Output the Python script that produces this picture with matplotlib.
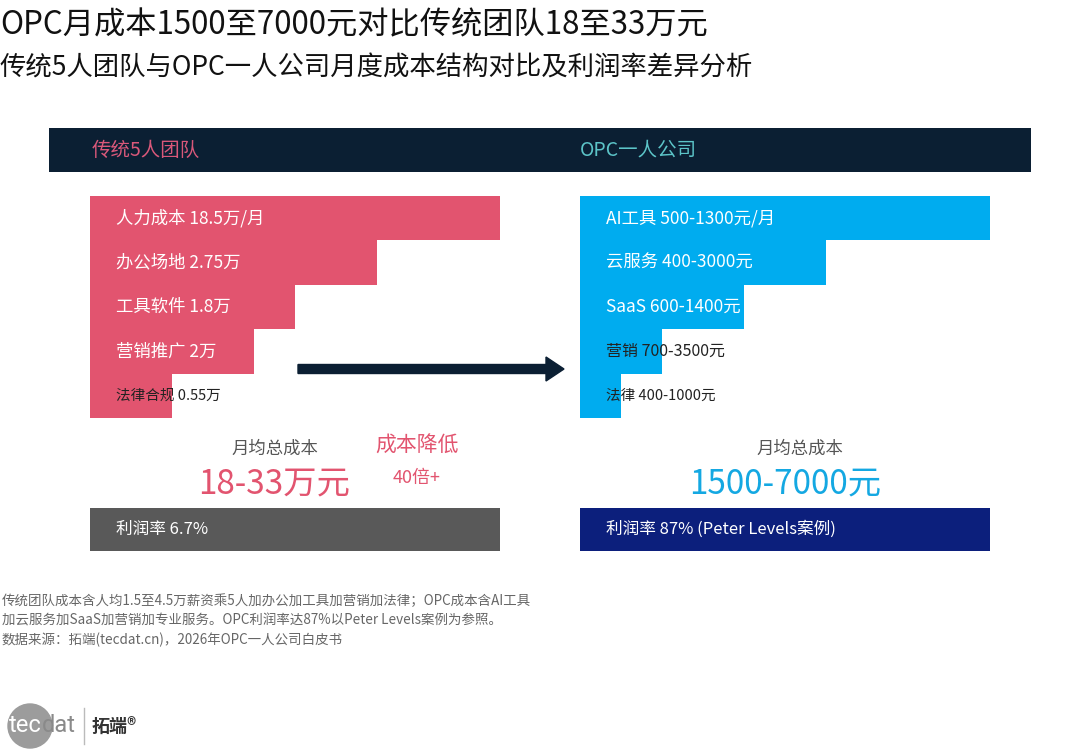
import matplotlib
matplotlib.use("Agg")
import matplotlib.pyplot as plt
from matplotlib.patches import Circle, FancyArrow

plt.rcParams['font.family'] = ['Noto Sans CJK SC', 'DejaVu Sans']

# 数据
title = "OPC月成本1500至7000元对比传统团队18至33万元"
subtitle = "传统5人团队与OPC一人公司月度成本结构对比及利润率差异分析"

trad_labels = ["人力成本 18.5万/月", "办公场地 2.75万", "工具软件 1.8万", "营销推广 2万", "法律合规 0.55万"]
trad_width = [1.0, 0.7, 0.5, 0.4, 0.2]   # 漏斗宽度(相对)
opc_labels = ["AI工具 500-1300元/月", "云服务 400-3000元", "SaaS 600-1400元", "营销 700-3500元", "法律 400-1000元"]
opc_width = [1.0, 0.6, 0.4, 0.2, 0.1]

trad_total = "18-33万元"
opc_total = "1500-7000元"
reduce_txt = ["成本降低", "40倍+"]
trad_profit = "利润率 6.7%"
opc_profit = "利润率 87% (Peter Levels案例)"

notes = ["传统团队成本含人均1.5至4.5万薪资乘5人加办公加工具加营销加法律；OPC成本含AI工具",
         "加云服务加SaaS加营销加专业服务。OPC利润率达87%以Peter Levels案例为参照。",
         "数据来源：拓端(tecdat.cn)，2026年OPC一人公司白皮书"]

PINK = "#e2546f"
BLUE = "#00acef"
NAVY = "#0b1f33"

fig = plt.figure(figsize=(10.8, 7.56), dpi=100)
ax = fig.add_axes([0, 0, 1, 1])
ax.set_xlim(0, 1080)
ax.set_ylim(756, 0)
ax.axis("off")

ax.text(0, 25, title, fontsize=22.5, va="center", ha="left", color="#111")
ax.text(0, 68, subtitle, fontsize=19, va="center", ha="left", color="#111")

# 表头
ax.barh(150, 982, left=49, height=44, color=NAVY)
ax.text(92, 150, "传统5人团队", fontsize=14, color="#d9587a", va="center")
ax.text(580, 150, "OPC一人公司", fontsize=14, color="#5cc4c8", va="center")

# 漏斗
row_h = 44.4
ys = [196 + row_h * (i + 0.5) for i in range(5)]
full = 410
ax.barh(ys, [w * full for w in trad_width], left=90, height=row_h, color=PINK)
ax.barh(ys, [w * full for w in opc_width], left=580, height=row_h, color=BLUE)
for i, (y, lab) in enumerate(zip(ys, trad_labels)):
    ax.text(116, y, lab, fontsize=12.5 if i < 4 else 10.5,
            color="white" if i < 4 else "#222", va="center")
for i, (y, lab) in enumerate(zip(ys, opc_labels)):
    ax.text(606, y, lab, fontsize=12.5 if i < 3 else (11.5 if i == 3 else 10.5),
            color="white" if i < 3 else "#222", va="center")

# 箭头
ax.add_patch(FancyArrow(298, 369, 248, 0, width=9, head_width=24, head_length=18,
                        length_includes_head=False, color=NAVY))

# 总成本
ax.text(275, 449, "月均总成本", fontsize=12.5, color="#555", ha="center", va="center")
ax.text(274, 484, trad_total, fontsize=24, color=PINK, ha="center", va="center")
ax.text(417, 446, reduce_txt[0], fontsize=15, color=PINK, ha="center", va="center")
ax.text(417, 478, reduce_txt[1], fontsize=13, color=PINK, ha="center", va="center")
ax.text(800, 449, "月均总成本", fontsize=12.5, color="#555", ha="center", va="center")
ax.text(785, 484, opc_total, fontsize=24, color="#14a8e2", ha="center", va="center")

# 利润率
ax.barh(529.5, full, left=90, height=43, color="#595959")
ax.barh(529.5, full, left=580, height=43, color="#0c1f7c")
ax.text(116, 529, trad_profit, fontsize=12, color="white", va="center")
ax.text(606, 529, opc_profit, fontsize=12, color="white", va="center")

# 注释
for i, n in enumerate(notes):
    ax.text(2, 601 + i * 19.5, n, fontsize=9.7, color="#666", va="center")

# logo
ax.add_patch(Circle((30, 726), 22, color="#9c9c9c"))
ax.text(9, 726, "tec", fontsize=17, color="white", va="center", family="Roboto")
ax.text(42, 726, "dat", fontsize=17, color="#8a8a8a", va="center", family="Roboto")
ax.plot([84, 84], [708, 744], color="#bbb", lw=1)
ax.text(92, 726, "拓端®", fontsize=13, color="#333", va="center", fontweight="bold")

fig.savefig("out.png", dpi=100)
